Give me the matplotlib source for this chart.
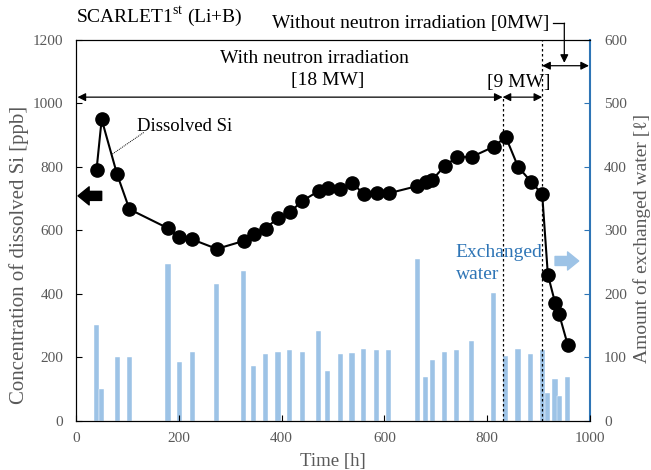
import matplotlib
matplotlib.use('Agg')
import matplotlib.pyplot as plt

plt.rcParams['font.family'] = ['Liberation Serif', 'DejaVu Serif']
plt.rcParams['mathtext.fontset'] = 'custom'
plt.rcParams['mathtext.rm'] = 'Liberation Serif'

# time [h] of each sampling / water exchange
time_h = [40, 50, 80, 104, 179, 201, 226, 274, 326, 346, 369, 393, 416, 440,
          472, 490, 514, 537, 560, 585, 608, 664, 680, 693, 717, 741, 770,
          813, 836, 860, 885, 907, 918, 932, 940, 957]
# dissolved Si [ppb]
si_ppb = [791, 950, 777, 667, 607, 579, 572, 542, 567, 588, 606, 640, 657, 693,
          724, 735, 730, 751, 714, 718, 717, 740, 754, 759, 803, 831, 832,
          864, 895, 801, 754, 714, 461, 373, 336, 238]
# exchanged water [l]
water_l = [151, 51, 101, 101, 248, 93, 108, 215, 236, 86, 106, 109, 112, 108,
           142, 78, 106, 107, 113, 111, 111, 255, 70, 96, 108, 112, 126,
           201, 102, 114, 105, 112, 44, 66, 40, 70]

power_change_h = [830, 907]

grey = '#595959'
blue = '#2e75b6'
bar_blue = '#9dc3e6'

fig = plt.figure(figsize=(6.51, 4.70), dpi=100)
ax = fig.add_axes([0.1167, 0.1043, 0.7896, 0.8106])
ax2 = ax.twinx()

ax2.bar(time_h, water_l, width=10, color=bar_blue, edgecolor='white', linewidth=0.3, zorder=1)
ax.set_zorder(2)
ax.patch.set_visible(False)
ax.plot(time_h, si_ppb, color='black', lw=1.5, marker='o', markersize=9.5, zorder=3)

ax.set_xlim(0, 1000)
ax.set_ylim(0, 1200)
ax2.set_ylim(0, 600)
ax.set_xticks(range(0, 1001, 200))
ax.set_yticks(range(0, 1201, 200))
ax2.set_yticks(range(0, 601, 100))

ax.tick_params(direction='in', labelcolor=grey, labelsize=11, length=4)
ax.tick_params(axis='y', pad=9)
ax.tick_params(axis='x', pad=8)
ax2.tick_params(direction='in', labelcolor=grey, labelsize=11, color=blue, length=4, pad=10)
for s in ['left', 'bottom', 'top']:
    ax.spines[s].set_color('black')
ax2.spines['right'].set_color(blue)
ax2.spines['right'].set_linewidth(1.5)
ax.spines['right'].set_visible(False)

ax.set_xlabel('Time [h]', color=grey, fontsize=13.5, labelpad=6)
ax.set_ylabel('Concentration of dissolved Si [ppb]', color=grey, fontsize=15)
ax2.set_ylabel('Amount of exchanged water [ℓ]', color=grey, fontsize=14)
ax.yaxis.set_label_coords(-0.092, 0.436)
ax2.yaxis.set_label_coords(1.083, 0.48)

# power level boundaries
ax.plot([power_change_h[0]] * 2, [0, 1020], color='black', ls=(0, (2, 2)), lw=0.9, zorder=2)
ax.plot([power_change_h[1]] * 2, [0, 1200], color='black', ls=(0, (2, 2)), lw=0.9, zorder=2)

arr = dict(arrowstyle='<|-|>', color='black', lw=0.9, mutation_scale=12, shrinkA=0, shrinkB=0)
ax.annotate('', xy=(3, 1020), xytext=(power_change_h[0], 1020), arrowprops=arr)
ax.annotate('', xy=(power_change_h[0], 1020), xytext=(power_change_h[1], 1020), arrowprops=arr)
ax.annotate('', xy=(power_change_h[1], 1119), xytext=(998, 1119), arrowprops=arr)

ax.text(464, 1143, 'With neutron irradiation', ha='center', va='center', fontsize=14)
ax.text(489, 1071, '[18 MW]', ha='center', va='center', fontsize=14)
ax.text(861, 1066, '[9 MW]', ha='center', va='center', fontsize=14)
ax.text(652, 1253, 'Without neutron irradiation [0MW]', ha='center', va='center',
        fontsize=14, clip_on=False)
ax.plot([928, 950], [1253, 1253], color='black', lw=0.9, clip_on=False)
ax.annotate('', xy=(950, 1128), xytext=(950, 1253),
            arrowprops=dict(arrowstyle='-|>', color='black', lw=0.9, mutation_scale=12,
                            shrinkA=0, shrinkB=0), annotation_clip=False)

ax.text(0, 1.03, 'SCARLET1$^{\\mathrm{st}}$ (Li+B)', transform=ax.transAxes,
        ha='left', va='bottom', fontsize=14)

ax.text(118, 929, 'Dissolved Si', ha='left', va='center', fontsize=13.5)
ax.plot([71, 133], [841, 910], color='black', lw=0.7, ls=(0, (1, 1)))

# axis indicator arrows
ax.annotate('', xy=(4, 709), xytext=(50, 709),
            arrowprops=dict(arrowstyle='simple,head_width=1.3,tail_width=0.65,head_length=0.8',
                            color='black', mutation_scale=10, shrinkA=0, shrinkB=0))
ax2.annotate('', xy=(978, 252), xytext=(932, 252),
             arrowprops=dict(arrowstyle='simple,head_width=1.3,tail_width=0.65,head_length=0.8',
                             color=bar_blue, mutation_scale=10, shrinkA=0, shrinkB=0))
ax2.text(739, 265, 'Exchanged', color=blue, ha='left', va='center', fontsize=14)
ax2.text(739, 230, 'water', color=blue, ha='left', va='center', fontsize=14)

fig.savefig('out.png', dpi=100)
